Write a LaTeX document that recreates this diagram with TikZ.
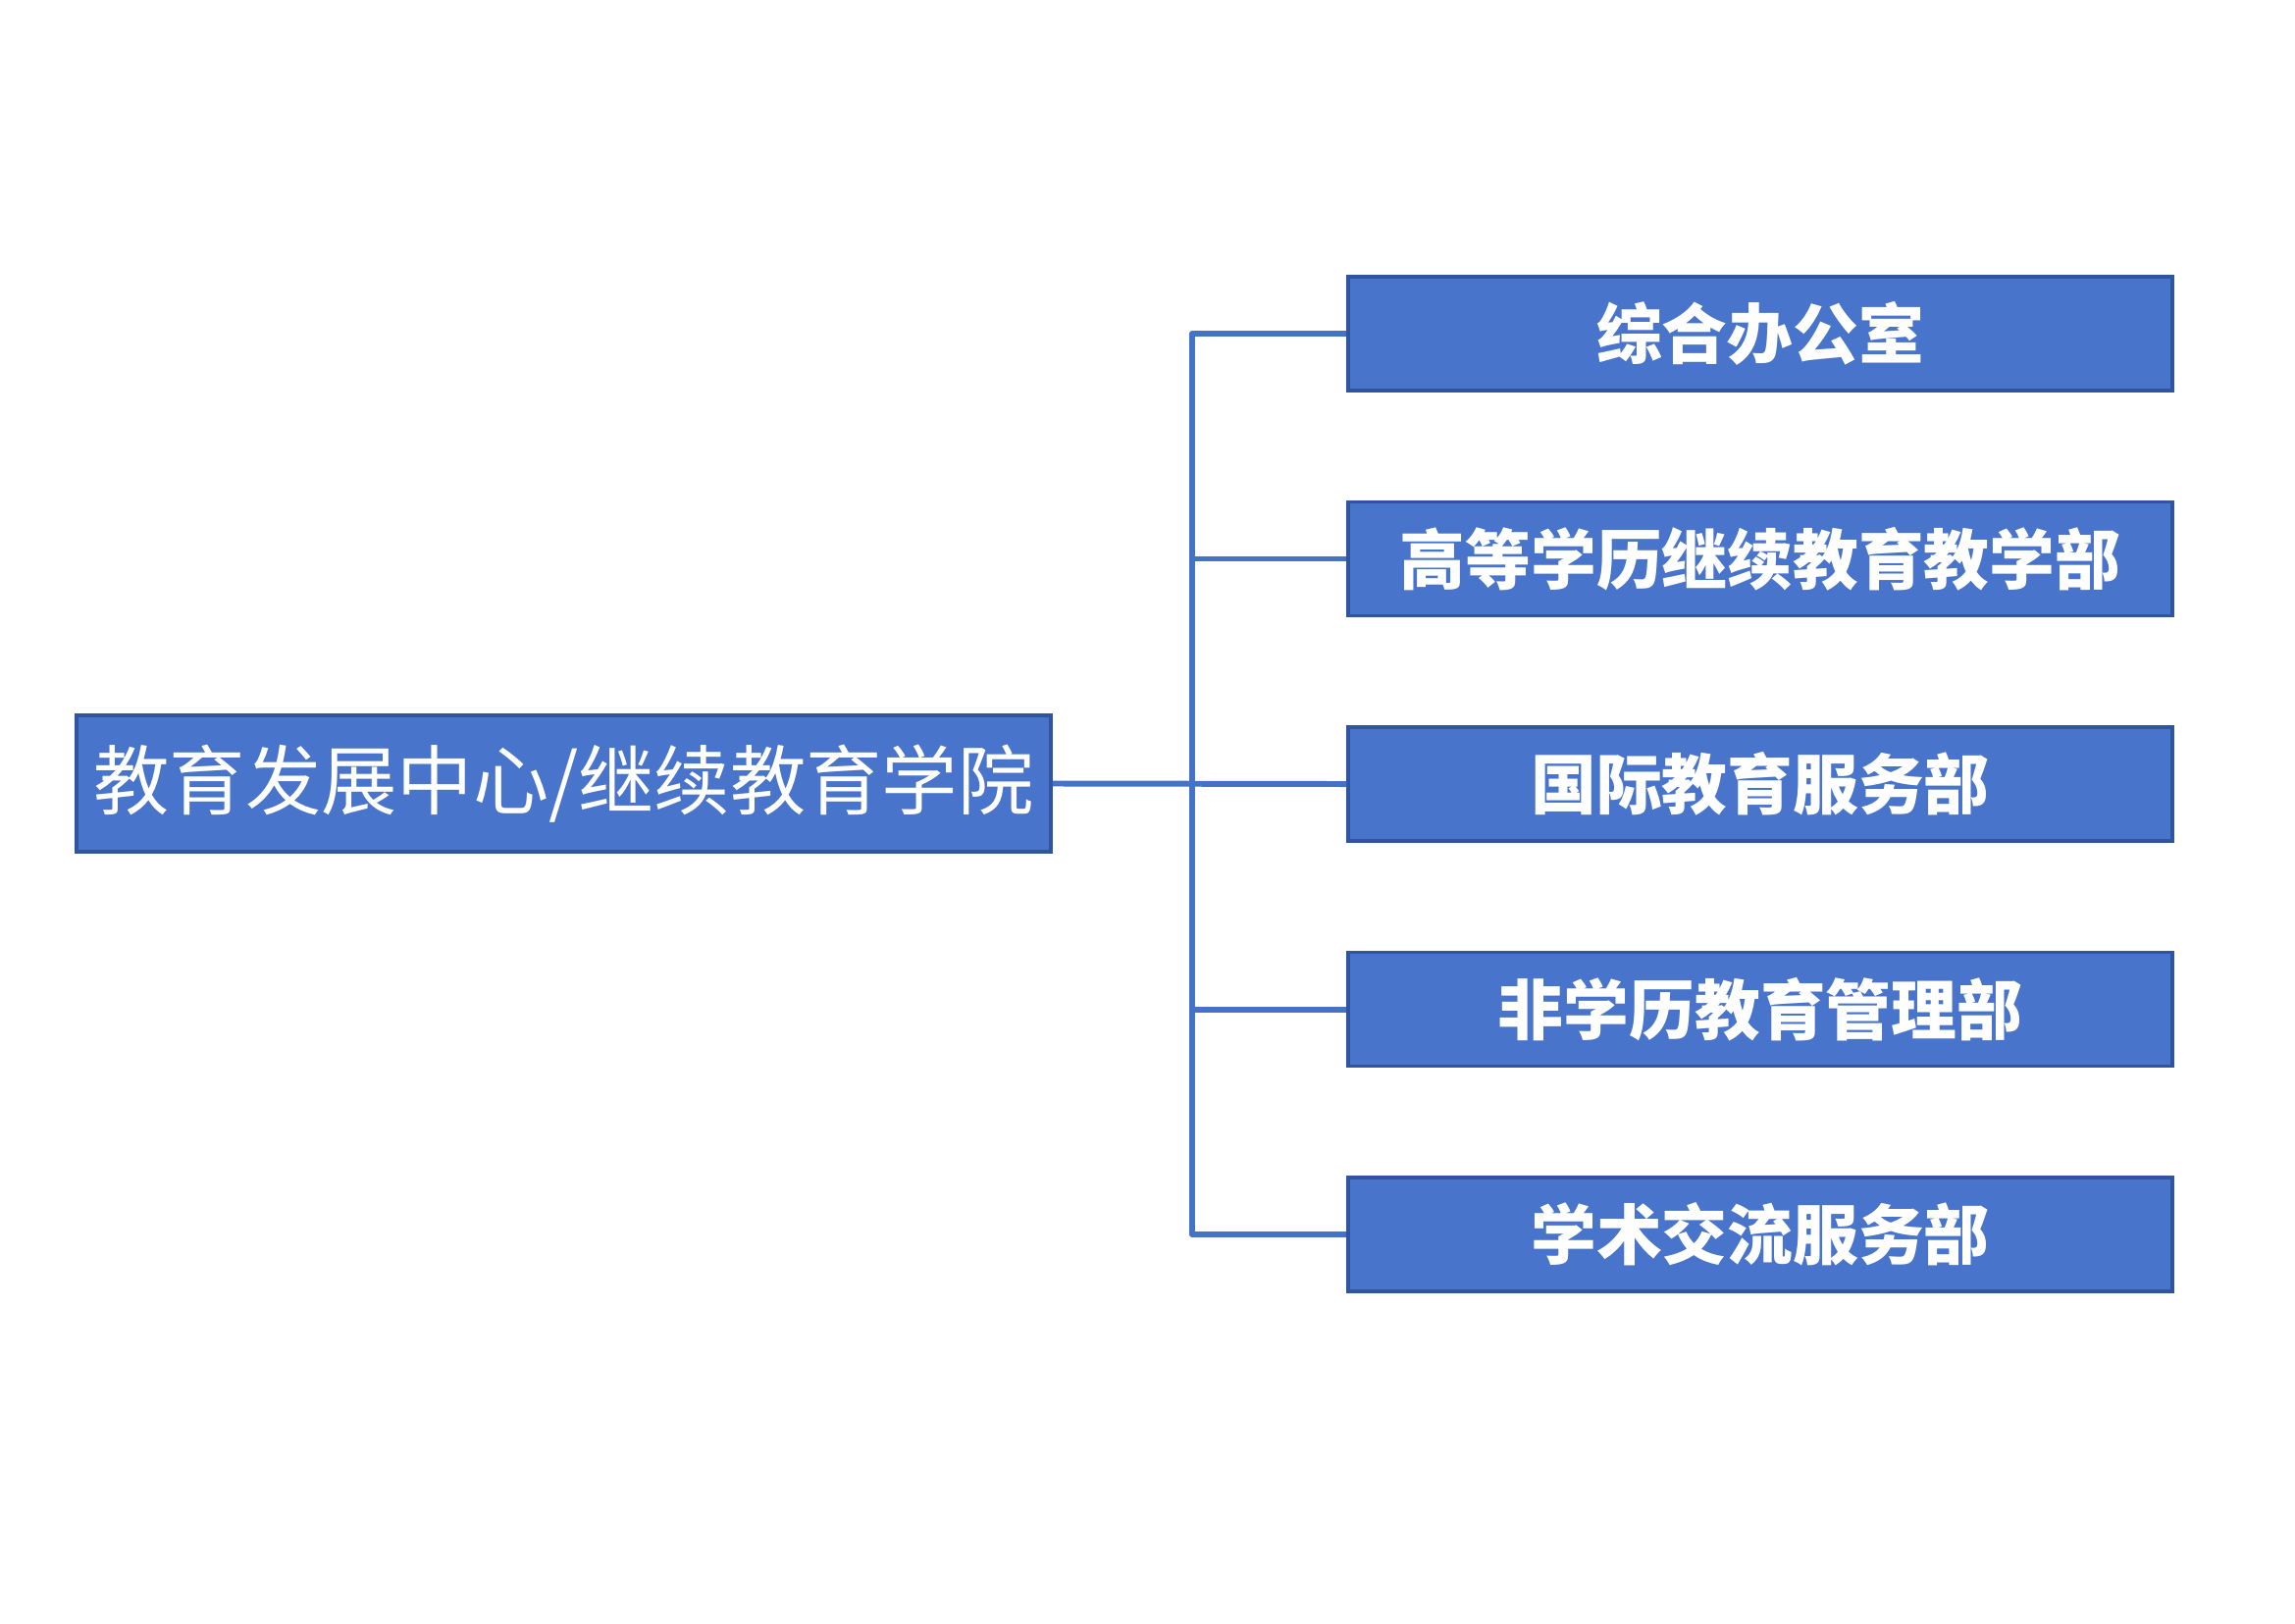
\documentclass[tikz,border=0pt]{standalone}
\usepackage{fontspec}
\usepackage{xcolor}
\usepackage{tikz}
\usetikzlibrary{
  arrows.meta,
  positioning,
  calc
}
\newfontfamily\cjk{Noto Sans CJK SC}
\definecolor{orgFill}{HTML}{4874CB}
\definecolor{orgEdge}{HTML}{2F54A0}
\definecolor{orgLine}{HTML}{4472C4}
\tikzset{
  orgnode/.style={
    draw=orgEdge, fill=orgFill, line width=1pt, text=white, align=center
  },
  rootbox/.style={orgnode, minimum width=9.93cm, minimum height=1.39cm,
    font=\cjk\fontsize{22}{26}\selectfont},
  deptbox/.style={orgnode, minimum width=8.40cm, minimum height=1.16cm,
    font=\cjk\bfseries\fontsize{19}{23}\selectfont},
  link/.style={orgLine, line width=1.7pt, line join=round}
}
\begin{document}
\begin{tikzpicture}[node distance=1.10cm]
  \useasboundingbox (0,0) rectangle (23.39,16.54);
  \node[rootbox] (root) at (5.745,8.555) {教育发展中心/继续教育学院};
  \node[deptbox] (b1) at (17.94,13.14) {综合办公室};
  \node[deptbox, below=of b1] (b2) {高等学历继续教育教学部};
  \node[deptbox, below=of b2] (b3) {国际教育服务部};
  \node[deptbox, below=of b3] (b4) {非学历教育管理部};
  \node[deptbox, below=of b4] (b5) {学术交流服务部};
  \coordinate (trunk) at (12.15,0);
  % tree connectors
  \draw[link] (b1.west) -- (b1.west -| trunk) -- (b5.west -| trunk) -- (b5.west);
  \foreach \n in {b2,b4} \draw[link] (\n.west -| trunk) -- (\n.west);
  \draw[link] (root.east) -- (b3.west);
\end{tikzpicture}
\end{document}
